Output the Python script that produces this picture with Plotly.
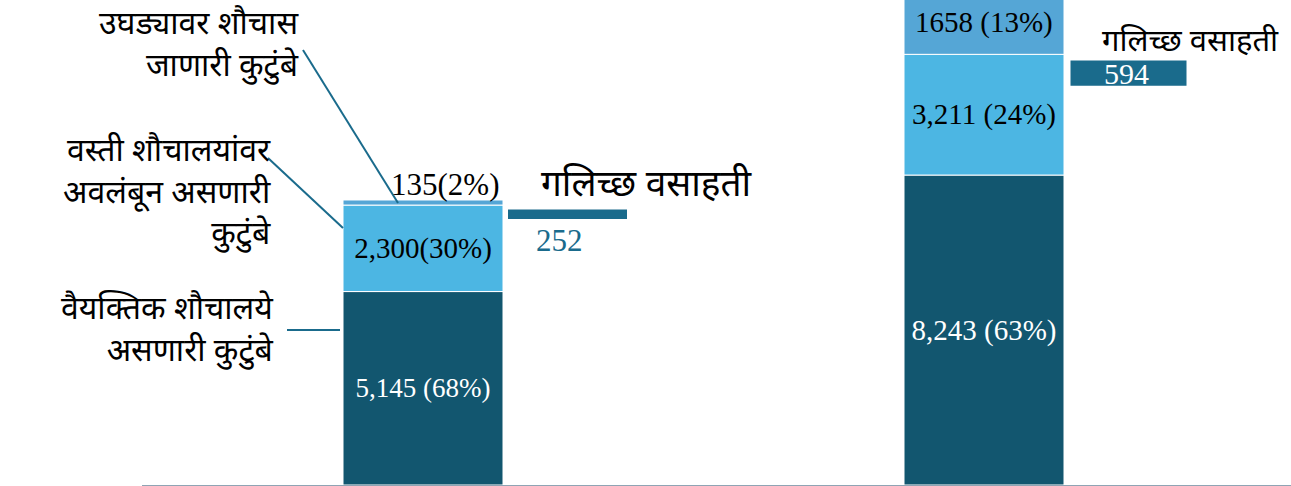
import plotly.graph_objects as go

# ---- data ----
groups = ["group_1", "group_2"]
seg_labels = ["वैयक्तिक शौचालये असणारी कुटुंबे",
              "वस्ती शौचालयांवर अवलंबून असणारी कुटुंबे",
              "उघड्यावर शौचास जाणारी कुटुंबे"]
individual_toilets = [5145, 8243]
community_toilets = [2300, 3211]
open_defecation = [135, 1658]
individual_text = ["5,145 (68%)", "8,243 (63%)"]
community_text = ["2,300(30%)", "3,211 (24%)"]
open_text = ["135(2%)", "1658 (13%)"]
slum_label = "गलिच्छ वसाहती"
slum_households = [252, 594]
slum_text = ["252", "594"]
label_lines = [["उघड्यावर शौचास", "जाणारी कुटुंबे"],
               ["वस्ती शौचालयांवर", "अवलंबून असणारी", "कुटुंबे"],
               ["वैयक्तिक शौचालये", "असणारी कुटुंबे"]]

# ---- style / layout constants ----
W, H = 1291, 486
ML, MB = 142, 1
C_DARK = "#12566f"
C_LIGHT = "#4cb6e3"
C_TOP = "#55a6d6"
C_SLUM = "#1a6b8c"
SERIF = "Liberation Serif, Times New Roman, serif"
DEVA = "Noto Sans, Noto Sans Devanagari, Lohit Devanagari, sans-serif"

X0_PX, UNIT_PX = 423.0, 561.0        # pixel of x=0 and pixels per x-unit
Y_PER_PX = 1 / 0.0376                 # data units per pixel
XR = [(ML - X0_PX) / UNIT_PX, (W - X0_PX) / UNIT_PX]
YR = [0, (H - MB) * Y_PER_PX]


def px2x(px):
    return (px - X0_PX) / UNIT_PX


def py2y(py):
    return (H - MB - py) * Y_PER_PX


xpos = list(range(len(groups)))
bar_w = 160 / UNIT_PX
slum_off = 144.5 / UNIT_PX
slum_line = [0, 3]
slum_w = [(119 - 2 * lw) / UNIT_PX for lw in slum_line]

base2 = individual_toilets
base3 = [a + b for a, b in zip(individual_toilets, community_toilets)]
# floating placement of the slum markers
slum_base = [py2y(219), py2y(62) - slum_households[1]]

fig = go.Figure()
line = dict(color="white", width=1)
fig.add_trace(go.Bar(x=xpos, y=individual_toilets, width=bar_w,
                     marker=dict(color=C_DARK, line=line),
                     text=individual_text, textposition="inside",
                     insidetextanchor="middle", constraintext="none",
                     textfont=dict(family=SERIF, size=[27, 29], color="white"),
                     name=seg_labels[0]))
fig.add_trace(go.Bar(x=xpos, y=community_toilets, base=base2, width=bar_w,
                     marker=dict(color=C_LIGHT, line=line),
                     text=community_text, textposition="inside",
                     insidetextanchor="middle", constraintext="none",
                     textfont=dict(family=SERIF, size=29, color="black"),
                     name=seg_labels[1]))
fig.add_trace(go.Bar(x=xpos, y=open_defecation, base=base3, width=bar_w,
                     marker=dict(color=C_TOP, line=line),
                     name=seg_labels[2]))
fig.add_trace(go.Bar(x=[p + slum_off for p in xpos], y=slum_households,
                     base=slum_base, width=slum_w,
                     marker=dict(color=C_SLUM, line=dict(color=C_SLUM, width=slum_line)),
                     name=slum_label))

ann = []
# open-defecation labels
ann.append(dict(x=px2x(445), y=py2y(184), text=open_text[0], showarrow=False,
                font=dict(family=SERIF, size=31, color="black")))
ann.append(dict(x=xpos[1], y=py2y(22), text=open_text[1], showarrow=False,
                font=dict(family=SERIF, size=29, color="black")))
# slum values
ann.append(dict(x=xpos[0] + slum_off - 8 / UNIT_PX, y=py2y(240), text=slum_text[0],
                showarrow=False, font=dict(family=SERIF, size=31, color=C_SLUM)))
ann.append(dict(x=xpos[1] + slum_off - 2 / UNIT_PX, y=py2y(73),
                text=slum_text[1], showarrow=False,
                font=dict(family=SERIF, size=30, color="white")))
# slum headers
ann.append(dict(x=px2x(647), y=py2y(181), text=slum_label, showarrow=False,
                font=dict(family=DEVA, size=37, color="black")))
ann.append(dict(x=px2x(1190), y=py2y(39), text=slum_label, showarrow=False,
                font=dict(family=DEVA, size=31, color="black")))
# left category labels
label_right = [301, 273, 276]
label_center = [42, 190, 327]
for lines, xr, yc in zip(label_lines, label_right, label_center):
    ann.append(dict(x=px2x(xr), y=py2y(yc), text="<br>".join(lines),
                    xanchor="right", yanchor="middle", align="right",
                    showarrow=False,
                    font=dict(family=DEVA, size=32, color="black")))
for a in ann:
    a.setdefault("xref", "x")
    a.setdefault("yref", "y")

shapes = []
for (xa, ya, xb, yb) in [(303, 50, 398, 203), (268, 158, 343, 228), (287, 330, 340, 330)]:
    shapes.append(dict(type="line", xref="x", yref="y",
                       x0=px2x(xa), y0=py2y(ya), x1=px2x(xb), y1=py2y(yb),
                       line=dict(color=C_SLUM, width=2)))

fig.update_layout(
    width=W, height=H, barmode="overlay", showlegend=False,
    margin=dict(l=ML, r=0, t=0, b=MB, autoexpand=False),
    paper_bgcolor="white", plot_bgcolor="white",
    annotations=ann, shapes=shapes,
    xaxis=dict(range=XR, showgrid=False, zeroline=False, showticklabels=False,
               showline=True, linecolor="#8fa4b4", linewidth=2, ticks=""),
    yaxis=dict(range=YR, showgrid=False, zeroline=False, showticklabels=False,
               showline=False, ticks=""),
)
fig.write_html("out.html", config={"displayModeBar": False},
               post_script="document.body.style.margin='0';document.body.style.overflow='hidden';")
